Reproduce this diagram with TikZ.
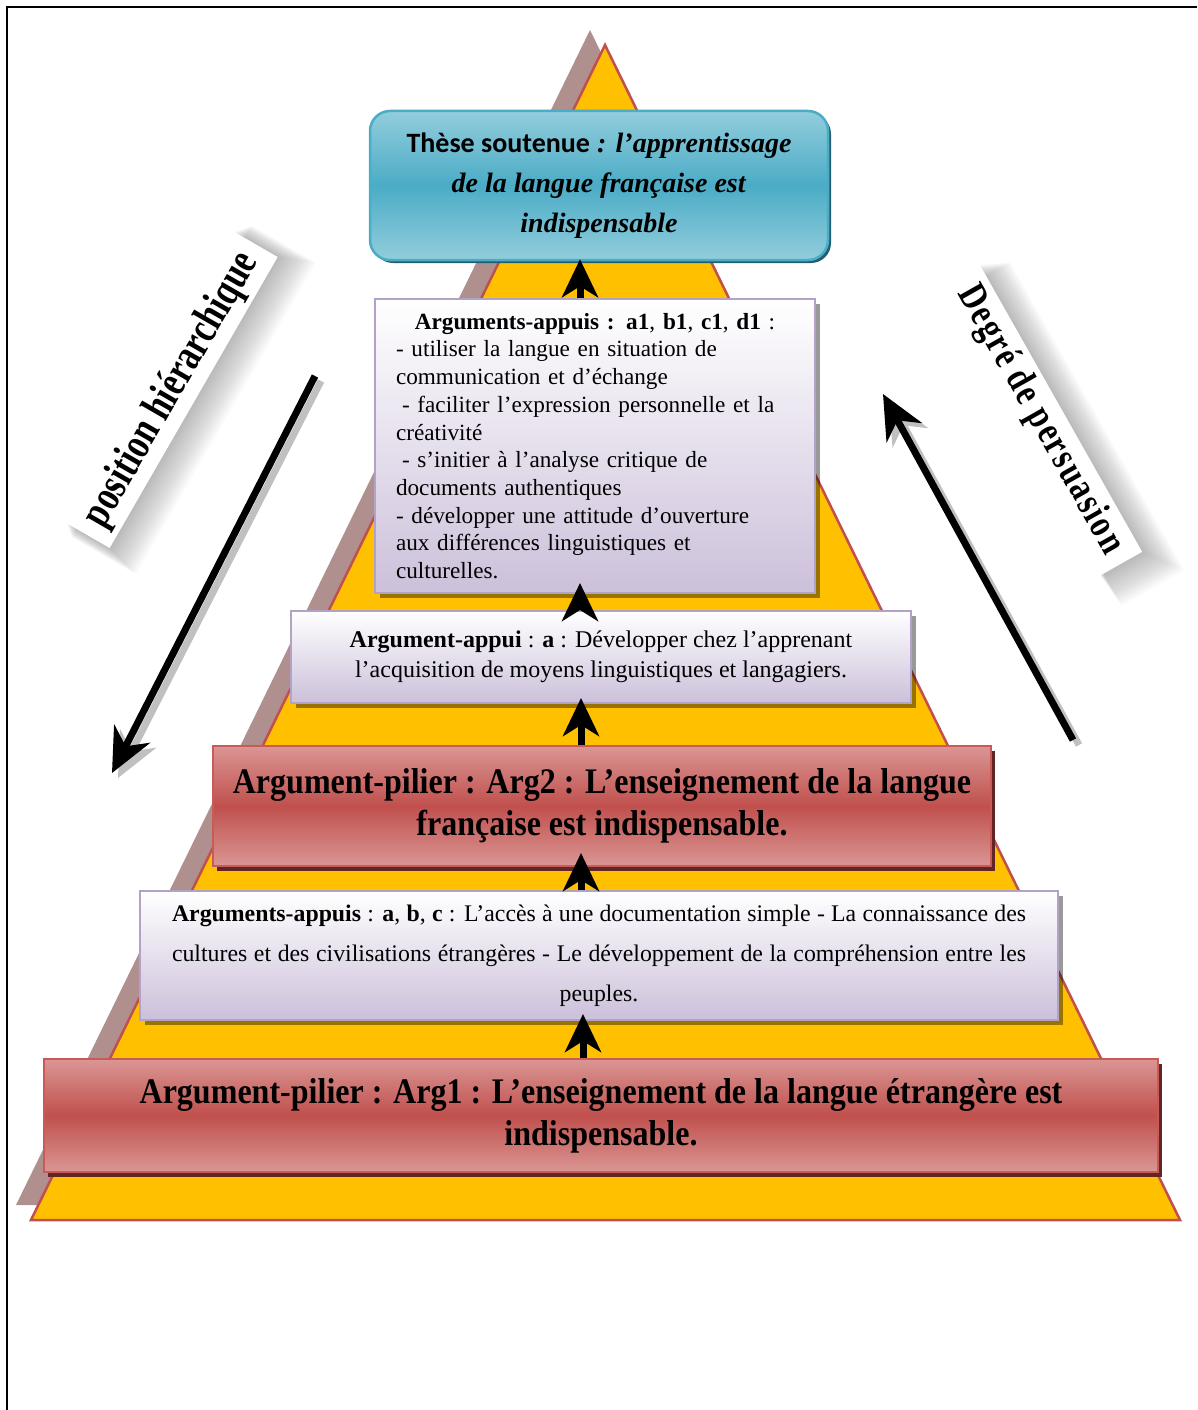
\documentclass[tikz,border=0pt]{standalone}
\usepackage{fontspec}
\setmainfont{Liberation Serif}
\newfontfamily\carlito{Carlito}
\newfontfamily\pilierfont[FakeStretch=0.89]{Liberation Serif Bold}
\newfontfamily\hierfont[FakeStretch=0.77]{Liberation Serif Bold}
\newfontfamily\persfont[FakeStretch=0.78,LetterSpace=5]{Liberation Serif Bold}
\usetikzlibrary{arrows.meta,shadows}

\definecolor{pyr}{RGB}{255,192,0}
\definecolor{pyredge}{RGB}{192,80,77}
\definecolor{pyrshadow}{RGB}{176,143,143}
\definecolor{thesetop}{RGB}{146,205,220}
\definecolor{thesemid}{RGB}{75,172,198}
\definecolor{theseedge}{RGB}{75,172,198}
\definecolor{theseshadow}{RGB}{33,95,112}
\definecolor{lavbot}{RGB}{204,192,218}
\definecolor{lavedge}{RGB}{179,162,199}
\definecolor{redlight}{RGB}{218,150,148}
\definecolor{redmid}{RGB}{192,80,77}
\definecolor{rededge}{RGB}{200,90,88}
\definecolor{redshadow}{RGB}{99,37,35}
\definecolor{arrowshadow}{RGB}{192,192,192}

\tikzset{
  thesebox/.style={draw=theseedge, line width=2.5pt, rounded corners=20pt,
    top color=thesetop, bottom color=thesetop, middle color=thesemid,
    drop shadow={shadow xshift=3pt, shadow yshift=-3pt, fill=theseshadow, opacity=1},
    inner sep=0pt, align=center},
  lavbox/.style={draw=lavedge, line width=2pt, top color=white, bottom color=lavbot,
    drop shadow={shadow xshift=5pt, shadow yshift=-5pt, fill=black, opacity=0.4},
    inner sep=0pt},
  redbox/.style={draw=rededge, line width=2pt,
    top color=redlight, bottom color=redlight, middle color=redmid,
    drop shadow={shadow xshift=4pt, shadow yshift=-5pt, fill=redshadow, opacity=1},
    inner sep=0pt, align=center},
  uparr/.style={line width=7pt, -{Stealth[length=38pt,width=36pt,inset=11pt]}},
  diagarr/.style={line width=7pt, -{Stealth[length=44pt,width=40pt,inset=14pt]}},
  diagshadow/.style={diagarr, draw=arrowshadow, color=arrowshadow},
  lblbox/.style={fill=white, inner sep=0pt, minimum height=50pt},
}

\begin{document}
\begin{tikzpicture}[x=1pt,y=-1pt]
\useasboundingbox (0,0) rectangle (1197,1410);

% page frame
\draw[line width=1.5pt] (7,1410) -- (7,7) -- (1197,7);

% pyramid and its offset shadow
\fill[pyrshadow] (590,30) -- (16,1205) -- (1165,1205) -- cycle;
\draw[pyredge, line width=2.5pt, fill=pyr] (605,45) -- (31,1220) -- (1180,1220) -- cycle;

% side labels with soft shadows
\foreach \k in {1,...,20}{
  \fill[black, opacity=0.014, shift={(172+\k*1.1,390+\k*0.5)}, rotate=60]
    (-168-\k*0.6,-25-\k*0.6) rectangle (168+\k*0.6,25+\k*0.6);
  \fill[black, opacity=0.014, shift={(1040+\k*1.3,420+\k*0.7)}, rotate=-60.5]
    (-165-\k*0.6,-24-\k*0.6) rectangle (165+\k*0.6,24+\k*0.6);
}
\node[lblbox, minimum width=336pt, rotate=60,
      font=\hierfont\fontsize{44}{44}\selectfont] (hierlbl) at (172,390)
  {position hiérarchique};
\node[lblbox, minimum width=330pt, minimum height=48pt, rotate=-60.5,
      font=\persfont\fontsize{40}{40}\selectfont] (perslbl) at (1040,420)
  {Degré de persuasion};

% direction arrows beside the pyramid
\coordinate (hierA) at (315,376);
\coordinate (hierB) at (112,773);
\coordinate (persA) at (1073,740);
\coordinate (persB) at (883,394);
\draw[diagshadow] ([shift={(6pt,-5pt)}]hierA) -- ([shift={(6pt,-5pt)}]hierB);
\draw[diagarr] (hierA) -- (hierB);
\draw[diagshadow] ([shift={(6pt,-5pt)}]persA) -- ([shift={(6pt,-5pt)}]persB);
\draw[diagarr] (persA) -- (persB);

% thesis
\node[thesebox, minimum width=458pt, minimum height=149pt,
      font=\fontsize{28}{40}\selectfont] (b1) at (599,185.5)
  {{\carlito\bfseries Thèse soutenue}\textbf{\textit{ : l’apprentissage}}\\
   \textbf{\textit{de la langue française est}}\\
   \textbf{\textit{indispensable}}};

% supporting arguments a1..d1
\node[lavbox, minimum width=440pt, minimum height=294pt, text width=398pt, align=left,
      font=\fontsize{23.2}{27.7}\selectfont] (b2) at (595,446)
  {\makebox[\linewidth][c]{\textbf{Arguments-appuis : a1}, \textbf{b1}, \textbf{c1}, \textbf{d1} :}\\
   - utiliser la langue en situation de\\
   communication et d’échange\\
   \hspace*{6pt}- faciliter l’expression personnelle et la\\
   créativité\\
   \hspace*{6pt}- s’initier à l’analyse critique de\\
   documents authentiques\\
   - développer une attitude d’ouverture\\
   aux différences linguistiques et\\
   culturelles.};

% supporting argument a
\node[lavbox, minimum width=620pt, minimum height=92pt, align=center,
      font=\fontsize{24}{30}\selectfont] (b3) at (601,657)
  {\raisebox{6pt}{\textbf{Argument-appui} : \textbf{a} : Développer chez l’apprenant}\\
   \raisebox{6pt}{l’acquisition de moyens linguistiques et langagiers.}};

% pillar argument 2
\node[redbox, minimum width=778pt, minimum height=120pt,
      font=\pilierfont\fontsize{36}{42}\selectfont] (b4) at (602,806)
  {\raisebox{8pt}{Argument-pilier : Arg2 : L’enseignement de la langue}\\
   \raisebox{8pt}{française est indispensable.}};

% supporting arguments a, b, c
\node[lavbox, minimum width=918pt, minimum height=129pt, align=center,
      font=\fontsize{23.8}{40}\selectfont] (b5) at (599,955.5)
  {\makebox[854pt][s]{\textbf{Arguments-appuis} : \textbf{a}, \textbf{b}, \textbf{c} : L’accès à une documentation simple - La connaissance des}\\
   \makebox[854pt][s]{cultures et des civilisations étrangères - Le développement de la compréhension entre les}\\
   peuples.};

% pillar argument 1
\node[redbox, minimum width=1114pt, minimum height=113pt,
      font=\pilierfont\fontsize{36}{42}\selectfont] (b6) at (601,1115.5)
  {\raisebox{5pt}{Argument-pilier : Arg1 : L’enseignement de la langue étrangère est}\\
   \raisebox{5pt}{indispensable.}};

% links between levels
\draw[uparr] ([xshift=-15pt]b2.north) -- ([xshift=-19pt,yshift=2pt]b1.south);
\draw[uparr] ([xshift=-21pt]b3.north) -- ([xshift=-15pt,yshift=11pt]b2.south);
\draw[uparr] ([xshift=-21pt]b4.north) -- ([xshift=-20pt,yshift=6pt]b3.south);
\draw[uparr] ([xshift=-18pt]b5.north) -- ([xshift=-21pt,yshift=14pt]b4.south);
\draw[uparr] ([xshift=-18pt]b6.north) -- ([xshift=-16pt,yshift=7pt]b5.south);
\end{tikzpicture}
\end{document}
